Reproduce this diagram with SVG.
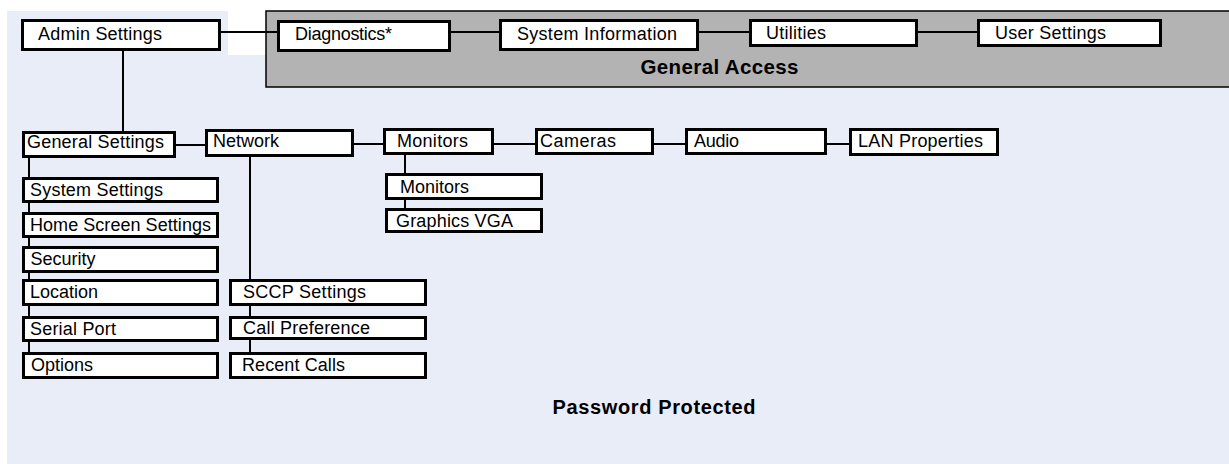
<svg xmlns="http://www.w3.org/2000/svg" width="1229" height="464" viewBox="0 0 1229 464">
<style>
.n rect{fill:#fff;stroke:#000;stroke-width:3}
.n text{font-family:"Liberation Sans",Arial,sans-serif;font-size:18px;fill:#000}
.c line{stroke:#000;stroke-width:2}
.t{font-family:"Liberation Sans",Arial,sans-serif;font-weight:bold;fill:#000}
</style>
<rect width="1229" height="464" fill="#fff"/>
<path d="M7 11H228V55H1229V464H7Z" fill="#E9EDF8"/>
<rect x="266" y="11" width="970" height="76" fill="#B3B3B3" stroke="#000" stroke-width="1.5"/>
<text class="t" x="719.5" y="74" font-size="20.5" text-anchor="middle" textLength="158">General Access</text>
<text class="t" x="654" y="414" font-size="20" text-anchor="middle" textLength="203">Password Protected</text>
<g id="connectors" class="c">
<line x1="221" y1="32" x2="277" y2="32"/>
<line x1="451" y1="32" x2="499" y2="32"/>
<line x1="699" y1="32" x2="749" y2="32"/>
<line x1="918" y1="32" x2="977" y2="32"/>
<line x1="123" y1="51" x2="123" y2="131"/>
<line x1="175" y1="145" x2="205" y2="145"/>
<line x1="354" y1="144" x2="383" y2="144"/>
<line x1="494" y1="144" x2="535" y2="144"/>
<line x1="654" y1="144" x2="685" y2="144"/>
<line x1="827" y1="144" x2="849" y2="144"/>
<line x1="29" y1="158" x2="29" y2="352"/>
<line x1="250" y1="157" x2="250" y2="352"/>
<line x1="405" y1="155" x2="405" y2="208"/>
</g>
<g id="admin-settings" class="n"><rect x="22.5" y="20.5" width="197" height="29"/><text x="38" y="40" textLength="124">Admin Settings</text></g>
<g id="diagnostics" class="n"><rect x="278.5" y="21.5" width="171" height="29"/><text x="295" y="40" textLength="97">Diagnostics*</text></g>
<g id="system-information" class="n"><rect x="500.5" y="20.5" width="197" height="29"/><text x="517" y="39.5" textLength="160">System Information</text></g>
<g id="utilities" class="n"><rect x="750.5" y="20.5" width="166" height="25"/><text x="766" y="38.5" textLength="60">Utilities</text></g>
<g id="user-settings" class="n"><rect x="978.5" y="20.5" width="182" height="25"/><text x="995" y="38.5" textLength="111">User Settings</text></g>
<g id="general-settings" class="n"><rect x="23.5" y="132.5" width="151" height="24"/><text x="27" y="147.5" textLength="137">General Settings</text></g>
<g id="network" class="n"><rect x="206.5" y="130.5" width="146" height="25"/><text x="213" y="147" textLength="66">Network</text></g>
<g id="monitors" class="n"><rect x="384.5" y="129.5" width="108" height="24"/><text x="397" y="147" textLength="71">Monitors</text></g>
<g id="cameras" class="n"><rect x="536.5" y="129.5" width="116" height="24"/><text x="540" y="147" textLength="76">Cameras</text></g>
<g id="audio" class="n"><rect x="686.5" y="129.5" width="139" height="24"/><text x="694" y="147" textLength="45">Audio</text></g>
<g id="lan-properties" class="n"><rect x="850.5" y="129.5" width="147" height="25"/><text x="858" y="147" textLength="125">LAN Properties</text></g>
<g id="system-settings" class="n"><rect x="23.5" y="178.5" width="194" height="23"/><text x="30" y="196" textLength="133">System Settings</text></g>
<g id="home-screen-settings" class="n"><rect x="23.5" y="213.5" width="194" height="23"/><text x="30" y="231" textLength="181">Home Screen Settings</text></g>
<g id="security" class="n"><rect x="23.5" y="247.5" width="194" height="24"/><text x="30.5" y="264.5" textLength="65">Security</text></g>
<g id="location" class="n"><rect x="23.5" y="280.5" width="194" height="24"/><text x="30" y="297.5" textLength="68">Location</text></g>
<g id="serial-port" class="n"><rect x="23.5" y="317.5" width="194" height="23"/><text x="30" y="334.5" textLength="86">Serial Port</text></g>
<g id="options" class="n"><rect x="23.5" y="353.5" width="194" height="24"/><text x="31" y="370.5" textLength="62">Options</text></g>
<g id="sccp-settings" class="n"><rect x="230.5" y="280.5" width="195" height="24"/><text x="243" y="297.5" textLength="123">SCCP Settings</text></g>
<g id="call-preference" class="n"><rect x="230.5" y="317.5" width="195" height="21"/><text x="243" y="334" textLength="127">Call Preference</text></g>
<g id="recent-calls" class="n"><rect x="230.5" y="353.5" width="195" height="24"/><text x="242" y="370.5" textLength="103">Recent Calls</text></g>
<g id="monitors-sub" class="n"><rect x="386.5" y="174.5" width="155" height="24"/><text x="400" y="193" textLength="69">Monitors</text></g>
<g id="graphics-vga" class="n"><rect x="386.5" y="209.5" width="155" height="22"/><text x="396" y="226.5" textLength="117">Graphics VGA</text></g>
</svg>
